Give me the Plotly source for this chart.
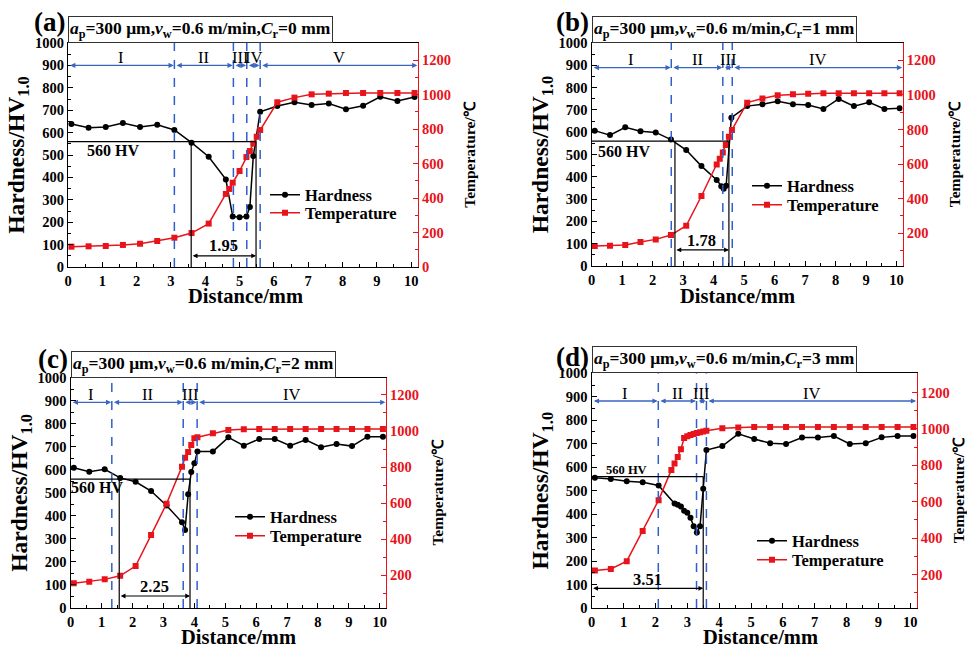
import plotly.graph_objects as go

# ---------------- data ----------------
# (a) Cr = 0 mm
a_hx = [0.1, 0.6, 1.1, 1.6, 2.1, 2.6, 3.1, 3.6, 4.1, 4.6, 4.8, 5.0, 5.2, 5.3, 5.4, 5.6, 6.1, 6.6, 7.1, 7.6, 8.1, 8.6, 9.1, 9.6, 10.1]
a_hy = [638, 622, 625, 643, 625, 635, 612, 555, 492, 391, 226, 222, 226, 268, 495, 693, 719, 735, 723, 730, 704, 720, 760, 741, 759]
a_tx = [0.1, 0.6, 1.1, 1.6, 2.1, 2.6, 3.1, 3.6, 4.1, 4.6, 4.7, 4.8, 5.0, 5.2, 5.3, 5.4, 5.5, 5.6, 6.1, 6.6, 7.1, 7.6, 8.1, 8.6, 9.1, 9.6, 10.1]
a_ty = [118, 120, 122, 128, 135, 151, 170, 197, 252, 424, 453, 489, 557, 638, 673, 716, 756, 795, 956, 983, 1002, 1006, 1010, 1010, 1010, 1010, 1010]
a_bounds = [3.1, 4.82, 5.21, 5.6]
a_zones = ["I", "II", "III", "IV", "V"]
a_black_x = [3.59, 5.48]
a_width = "1.95"

# (b) Cr = 1 mm
b_hx = [0.1, 0.6, 1.1, 1.6, 2.1, 2.6, 3.1, 3.6, 4.1, 4.25, 4.33, 4.41, 4.58, 5.1, 5.6, 6.1, 6.6, 7.1, 7.6, 8.1, 8.6, 9.1, 9.6, 10.1]
b_hy = [607, 587, 622, 604, 599, 567, 520, 448, 386, 358, 346, 360, 665, 717, 725, 739, 725, 722, 704, 749, 717, 734, 704, 707]
b_tx = [0.1, 0.6, 1.1, 1.6, 2.1, 2.6, 3.1, 3.6, 4.1, 4.2, 4.3, 4.4, 4.5, 4.6, 5.1, 5.6, 6.1, 6.6, 7.1, 7.6, 8.1, 8.6, 9.1, 9.6, 10.1]
b_ty = [126, 127, 131, 149, 164, 189, 243, 415, 597, 631, 666, 710, 758, 797, 955, 979, 998, 1003, 1007, 1009, 1010, 1010, 1010, 1010, 1010]
b_bounds = [2.61, 4.3, 4.61]
b_zones = ["I", "II", "III", "IV"]
b_black_x = [2.73, 4.5]
b_width = "1.78"

# (c) Cr = 2 mm
c_hx = [0.1, 0.6, 1.1, 1.6, 2.1, 2.6, 3.1, 3.6, 3.7, 3.8, 3.9, 4.0, 4.1, 4.6, 5.1, 5.6, 6.1, 6.6, 7.1, 7.6, 8.1, 8.6, 9.1, 9.6, 10.1]
c_hy = [609, 592, 602, 565, 548, 508, 445, 372, 339, 494, 590, 628, 680, 680, 741, 705, 734, 734, 705, 730, 698, 712, 703, 744, 744]
c_tx = [0.1, 0.6, 1.1, 1.6, 2.1, 2.6, 3.1, 3.6, 3.7, 3.8, 3.9, 4.0, 4.1, 4.6, 5.1, 5.6, 6.1, 6.6, 7.1, 7.6, 8.1, 8.6, 9.1, 9.6, 10.1]
c_ty = [154, 163, 176, 196, 250, 422, 596, 802, 851, 883, 922, 960, 965, 987, 1006, 1010, 1011, 1011, 1011, 1011, 1011, 1011, 1011, 1011, 1011]
c_bounds = [1.33, 3.64, 4.09]
c_zones = ["I", "II", "III", "IV"]
c_black_x = [1.57, 3.86]
c_width = "2.25"

# (d) Cr = 3 mm
d_hx = [0.1, 0.6, 1.1, 1.6, 2.1, 2.6, 2.7, 2.8, 2.9, 3.0, 3.1, 3.2, 3.3, 3.4, 3.5, 3.6, 4.1, 4.6, 5.1, 5.6, 6.1, 6.6, 7.1, 7.6, 8.1, 8.6, 9.1, 9.6, 10.1]
d_hy = [555, 550, 540, 536, 522, 445, 440, 432, 414, 406, 385, 348, 322, 348, 508, 673, 690, 742, 720, 702, 699, 726, 726, 733, 699, 702, 727, 733, 733]
d_tx = [0.1, 0.6, 1.1, 1.6, 2.1, 2.5, 2.6, 2.7, 2.8, 2.9, 3.0, 3.1, 3.2, 3.3, 3.4, 3.5, 3.6, 4.1, 4.6, 5.1, 5.6, 6.1, 6.6, 7.1, 7.6, 8.1, 8.6, 9.1, 9.6, 10.1]
d_ty = [223, 231, 274, 440, 609, 775, 810, 845, 888, 950, 960, 966, 972, 977, 982, 986, 990, 1003, 1008, 1010, 1010, 1010, 1010, 1010, 1010, 1010, 1010, 1010, 1010, 1010]
d_bounds = [2.09, 3.29, 3.6]
d_zones = ["I", "II", "III", "IV"]
d_black_x = [3.5]
d_width = "3.51"

cr_values = ["0", "1", "2", "3"]
panel_tags = ["(a)", "(b)", "(c)", "(d)"]
threshold = 560
x_ticks = list(range(0, 11))
h_ticks = list(range(0, 1001, 100))

# ---------------- layout helpers ----------------
W, H = 967, 647
def PX(v): return v / W
def PY(v): return 1 - v / H

SERIF = "Liberation Serif, Times New Roman, serif"
RED = "#e8141c"
BLUE = "#2f5fc8"
ZONE_BLUE = "#3a66bf"

panels = [
    dict(hx=a_hx, hy=a_hy, tx=a_tx, ty=a_ty, bounds=a_bounds, zones=a_zones, bx=a_black_x, w=a_width,
         dx=(68, 418), dy=(43, 267), tr=[0, 1300], tv=[0, 200, 400, 600, 800, 1000, 1200],
         zone_y=900, zone_ly=937, arr_y=50, wl_y=95, hv=(1.3, 518, 16), leg=(265, 195, 213), box_top=16,
         xt=(245, 296)),
    dict(hx=b_hx, hy=b_hy, tx=b_tx, ty=b_ty, bounds=b_bounds, zones=b_zones, bx=b_black_x, w=b_width,
         dx=(591.7, 902.7), dy=(43, 266), tr=[10, 1300], tv=[200, 400, 600, 800, 1000, 1200],
         zone_y=890, zone_ly=928, arr_y=72, wl_y=115, hv=(1.06, 514, 16), leg=(747, 186, 205), box_top=16,
         xt=(737, 296)),
    dict(hx=c_hx, hy=c_hy, tx=c_tx, ty=c_ty, bounds=c_bounds, zones=c_zones, bx=c_black_x, w=c_width,
         dx=(70.7, 386), dy=(377.7, 608), tr=[17, 1296], tv=[200, 400, 600, 800, 1000, 1200],
         zone_y=893, zone_ly=929, arr_y=52, wl_y=94, hv=(0.85, 525, 16), leg=(230, 517, 536), box_top=353,
         xt=(238, 637)),
    dict(hx=d_hx, hy=d_hy, tx=d_tx, ty=d_ty, bounds=d_bounds, zones=d_zones, bx=d_black_x, w=d_width,
         dx=(591.7, 916.7), dy=(373.3, 608), tr=[17, 1305], tv=[200, 400, 600, 800, 1000, 1200],
         zone_y=882, zone_ly=916, arr_y=84, wl_y=122, hv=(1.1, 588, 12.5), leg=(752, 541, 560), box_top=351,
         xt=(760, 637)),
]

fig = go.Figure()
shapes, annotations = [], []
layout = {}

for i, p in enumerate(panels):
    n = i + 1
    xname = "x" if n == 1 else f"x{n}"
    yl = "y" if n == 1 else f"y{2*n-1}"
    yr = f"y{2*n}"
    leg_h = "legend" if n == 1 else f"legend{2*n-1}"
    leg_t = f"legend{2*n}"
    xkey = "xaxis" if n == 1 else f"xaxis{n}"
    ylkey = "yaxis" if n == 1 else f"yaxis{2*n-1}"
    yrkey = f"yaxis{2*n}"

    fig.add_trace(go.Scatter(x=p["hx"], y=p["hy"], name="Hardness", mode="lines+markers", showlegend=True,
                             line=dict(color="black", width=1.5), marker=dict(symbol="circle", size=6, color="black"),
                             xaxis=xname, yaxis=yl, legend=leg_h))
    fig.add_trace(go.Scatter(x=p["tx"], y=p["ty"], name="Temperature", mode="lines+markers", showlegend=True,
                             line=dict(color=RED, width=1.5), marker=dict(symbol="square", size=6, color=RED),
                             xaxis=xname, yaxis=yr, legend=leg_t))

    tickfont = dict(family=SERIF, size=14.5, color="black", weight="bold")
    layout[xkey] = dict(domain=[PX(p["dx"][0]), PX(p["dx"][1])], anchor=yl, range=[0, 10.2], automargin=False,
                        tickvals=x_ticks, ticks="inside", ticklen=5, tickwidth=1.2, tickcolor="black",
                        minor=dict(ticks="inside", ticklen=3, dtick=0.5, tickcolor="black"),
                        showline=True, linecolor="black", linewidth=1.4, mirror=True,
                        showgrid=False, zeroline=False, tickfont=tickfont)
    layout[ylkey] = dict(domain=[PY(p["dy"][1]), PY(p["dy"][0])], anchor=xname, range=[0, 1000], automargin=False,
                         tickvals=h_ticks, ticks="inside", ticklen=5, tickwidth=1.2, tickcolor="black",
                         minor=dict(ticks="inside", ticklen=3, dtick=50, tickcolor="black"),
                         showline=True, linecolor="black", linewidth=1.4, showgrid=False, zeroline=False,
                         tickfont=tickfont,
                         title=dict(text="Hardness/HV<sub>1.0</sub>", standoff=3,
                                    font=dict(family=SERIF, size=23.5, color="black", weight="bold")))
    layout[yrkey] = dict(overlaying=yl, side="right", anchor=xname, range=p["tr"], tickvals=p["tv"], automargin=False,
                         ticks="inside", ticklen=5, tickwidth=1.2, tickcolor=RED,
                         minor=dict(ticks="inside", ticklen=3, dtick=100, tickcolor=RED),
                         showline=True, linecolor=RED, linewidth=1.4, showgrid=False, zeroline=False,
                         tickfont=dict(family=SERIF, size=14.5, color=RED, weight="bold"),
                         title=dict(text="Temperature/℃", standoff=14,
                                    font=dict(family=SERIF, size=15.5, color="black", weight="bold")))
    for lk, ly in ((leg_h, p["leg"][1]), (leg_t, p["leg"][2])):
        layout[lk] = dict(x=PX(p["leg"][0]), y=PY(ly), xanchor="left", yanchor="middle", visible=True,
                          bgcolor="rgba(0,0,0,0)", itemwidth=30, borderwidth=0,
                          font=dict(family=SERIF, size=16.5, color="black", weight="bold"))

    # x-axis title
    annotations.append(dict(x=PX(p["xt"][0]), y=PY(p["xt"][1]), xref="paper", yref="paper",
                            xanchor="center", yanchor="middle", showarrow=False, text="Distance/mm",
                            font=dict(family=SERIF, size=20.5, color="black", weight="bold")))

    # blue dashed boundaries
    for b in p["bounds"]:
        shapes.append(dict(type="line", xref=xname, yref=yl, x0=b, x1=b, y0=0, y1=1000,
                           line=dict(color=BLUE, width=1.5, dash="dash")))
    # zone arrows and labels
    edges = [0] + p["bounds"] + [10.2]
    for k, z in enumerate(p["zones"]):
        x0, x1 = edges[k], edges[k + 1]
        annotations.append(dict(x=x1 - 0.02, y=p["zone_y"], ax=x0 + 0.02, ay=p["zone_y"], xref=xname, yref=yl,
                                axref=xname, ayref=yl, showarrow=True, arrowhead=2, startarrowhead=2,
                                arrowside="end+start", arrowsize=0.8, startarrowsize=0.8, arrowwidth=1.3,
                                arrowcolor=ZONE_BLUE, text=""))
        annotations.append(dict(x=(x0 + x1) / 2, y=p["zone_ly"], xref=xname, yref=yl, text=z, showarrow=False,
                                font=dict(family=SERIF, size=16.5, color="black")))
    # 560 HV lines
    xe = p["bx"][-1]
    shapes.append(dict(type="line", xref=xname, yref=yl, x0=0, x1=xe, y0=threshold, y1=threshold,
                       line=dict(color="black", width=1.2)))
    for bx in p["bx"]:
        shapes.append(dict(type="line", xref=xname, yref=yl, x0=bx, x1=bx, y0=0, y1=threshold,
                           line=dict(color="black", width=1.2)))
    xs = p["bx"][0] if len(p["bx"]) > 1 else 0
    annotations.append(dict(x=xe, y=p["arr_y"], ax=xs, ay=p["arr_y"], xref=xname, yref=yl, axref=xname, ayref=yl,
                            showarrow=True, arrowhead=2, startarrowhead=2, arrowside="end+start",
                            arrowsize=0.8, startarrowsize=0.8, arrowwidth=1.2, arrowcolor="black", text=""))
    annotations.append(dict(x=(xs + xe) / 2, y=p["wl_y"], xref=xname, yref=yl, text=p["w"], showarrow=False,
                            font=dict(family=SERIF, size=16.5, color="black", weight="bold")))
    annotations.append(dict(x=p["hv"][0], y=p["hv"][1], xref=xname, yref=yl, text=f"{threshold} HV",
                            showarrow=False, font=dict(family=SERIF, size=p["hv"][2], color="black", weight="bold")))
    # parameter box and panel tag
    annotations.append(dict(x=PX(p["dx"][0]), y=PY(p["dy"][0]), xref="paper", yref="paper",
                            xanchor="left", yanchor="bottom", showarrow=False,
                            text=f"<i>a</i><sub>p</sub>=300 μm,<i>v</i><sub>w</sub>=0.6 m/min,<i>C</i><sub>r</sub>={cr_values[i]} mm",
                            bordercolor="#333", borderwidth=1, borderpad=1, bgcolor="white",
                            font=dict(family=SERIF, size=17.5, color="black", weight="bold")))
    annotations.append(dict(x=PX(p["dx"][0] - 1), y=PY(p["box_top"] + 6), xref="paper", yref="paper",
                            xanchor="right", yanchor="middle", showarrow=False, text=panel_tags[i],
                            font=dict(family=SERIF, size=27, color="black", weight="bold")))

fig.update_layout(width=W, height=H, margin=dict(l=0, r=0, t=0, b=0, autoexpand=False), showlegend=True,
                  paper_bgcolor="white", plot_bgcolor="white", shapes=shapes, annotations=annotations,
                  font=dict(family=SERIF), **layout)

fig.write_html("out.html", config={"displayModeBar": False},
               post_script="document.body.style.margin='0px';")
